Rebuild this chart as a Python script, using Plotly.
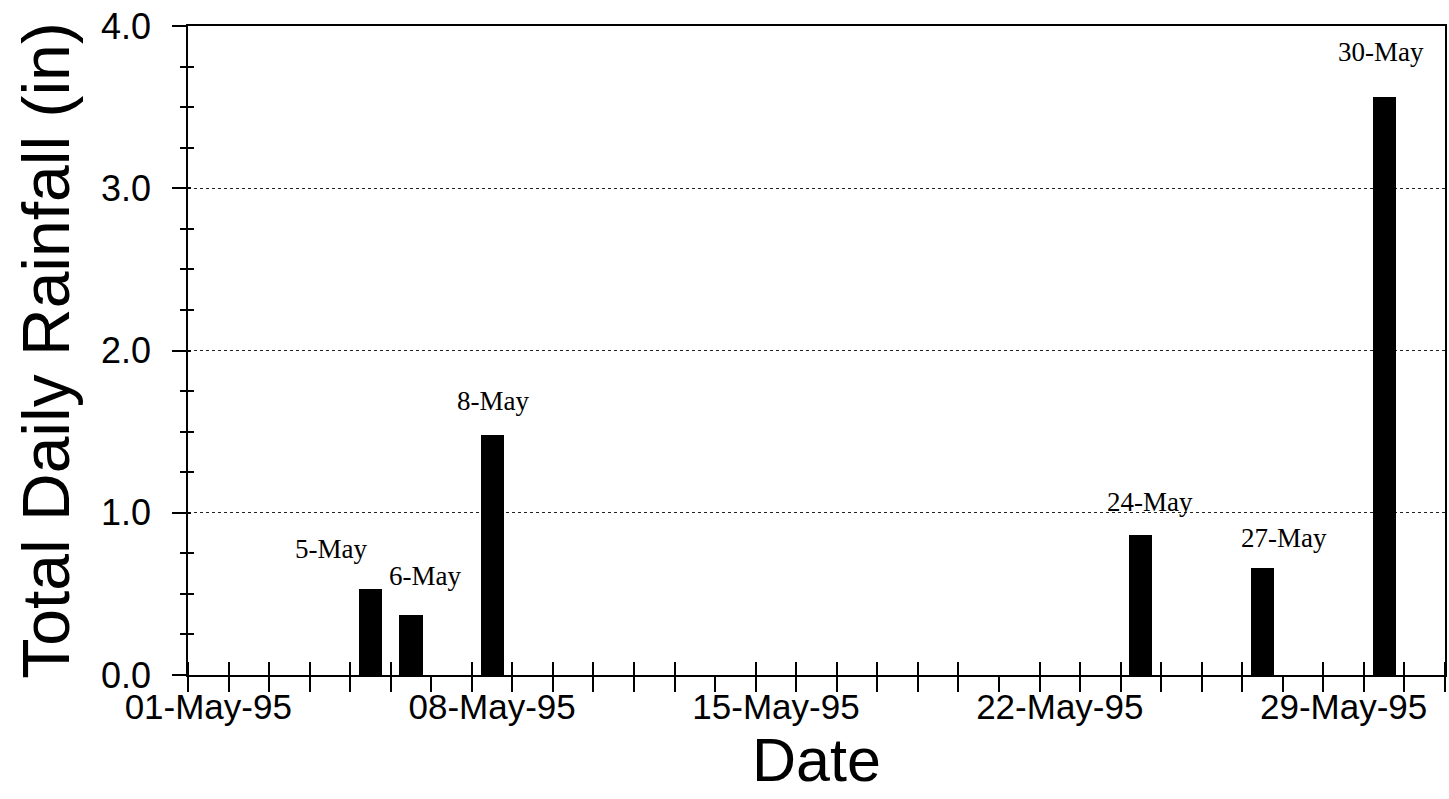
import pandas as pd
import plotly.graph_objects as go

# Daily rainfall totals, May 1995
rain_dates = ["1995-05-05", "1995-05-06", "1995-05-08", "1995-05-24", "1995-05-27", "1995-05-30"]
rain_inches = [0.53, 0.37, 1.48, 0.86, 0.66, 3.56]
rain_labels = ["5-May", "6-May", "8-May", "24-May", "27-May", "30-May"]

# label offsets (px) relative to each bar top
label_dx = [-39, 14, 1, 9, 21, -3]
label_dy = [40, 39, 34, 33, 30, 45]

DAY_MS = 86400000
SANS = "Liberation Sans, Arial, sans-serif"
SERIF = "Liberation Serif, Times New Roman, serif"

fig = go.Figure()
fig.add_trace(go.Bar(
    x=rain_dates, y=rain_inches,
    xperiod=DAY_MS, xperiodalignment="middle",
    width=0.57 * DAY_MS,
    marker=dict(color="black", line=dict(width=0)),
    showlegend=False,
))
# empty trace so the overlay axes (inner tick halves) get drawn
fig.add_trace(go.Scatter(x=[], y=[], xaxis="x2", yaxis="y2", showlegend=False))

for d, v, t, dx, dy in zip(rain_dates, rain_inches, rain_labels, label_dx, label_dy):
    fig.add_annotation(
        x=pd.Timestamp(d) + pd.Timedelta(hours=12), y=v, xref="x", yref="y",
        text=t, showarrow=False, xanchor="center", yanchor="middle",
        xshift=dx, yshift=dy,
        font=dict(family=SERIF, size=27, color="black"),
    )

x_range = ["1995-05-01", "1995-06-01"]

fig.update_layout(
    width=1449, height=799,
    margin=dict(l=188, r=4, t=26, b=124),
    paper_bgcolor="white", plot_bgcolor="white",
    font=dict(family=SANS, color="black"),
    bargap=0,
    xaxis=dict(
        type="date", range=x_range,
        tick0="1995-05-01 12:00", dtick=7 * DAY_MS, tickformat="%d-%b-%y",
        ticks="", showgrid=False, zeroline=False,
        tickfont=dict(family=SANS, size=35, color="black"),
        minor=dict(tick0="1995-05-01", dtick=DAY_MS, ticks="outside",
                   ticklen=15, tickwidth=1.5, tickcolor="black", showgrid=False),
        showline=True, linecolor="black", linewidth=1.5, mirror=True,
        title=dict(text="Date", font=dict(family=SANS, size=61, color="black"), standoff=12),
        automargin=False,
    ),
    xaxis2=dict(
        type="date", overlaying="x", matches="x", anchor="y2", side="bottom",
        range=x_range, showticklabels=False, ticks="", showgrid=False, zeroline=False,
        minor=dict(tick0="1995-05-01", dtick=DAY_MS, ticks="inside",
                   ticklen=13, tickwidth=1.5, tickcolor="black", showgrid=False),
        showline=False,
    ),
    yaxis=dict(
        range=[0, 4], dtick=1, tick0=0, tickformat=".1f",
        ticks="outside", ticklen=14, tickwidth=1.5, tickcolor="black",
        tickfont=dict(family=SANS, size=36, color="black"),
        ticklabelstandoff=14,
        minor=dict(dtick=0.25, ticks="outside", ticklen=6, tickwidth=1.5,
                   tickcolor="black", showgrid=False),
        showgrid=True, gridcolor="#222222", gridwidth=1, griddash="dot",
        zeroline=False,
        showline=True, linecolor="black", linewidth=1.5, mirror=True,
        title=dict(text="Total Daily Rainfall (in)",
                   font=dict(family=SANS, size=66, color="black"), standoff=10),
        automargin=False,
    ),
    yaxis2=dict(
        overlaying="y", matches="y", anchor="x2", range=[0, 4], dtick=1,
        showticklabels=False, ticks="inside", ticklen=3, tickwidth=1.5, tickcolor="black",
        minor=dict(dtick=0.25, ticks="inside", ticklen=6, tickwidth=1.5,
                   tickcolor="black", showgrid=False),
        showgrid=False, zeroline=False, showline=False,
    ),
)

fig.write_html("out.html")
